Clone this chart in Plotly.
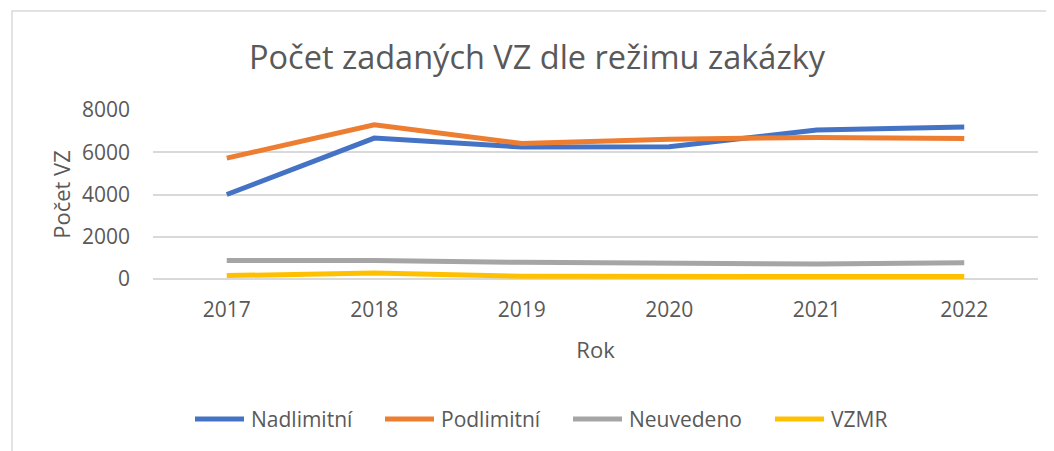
import plotly.graph_objects as go

years = ["2017", "2018", "2019", "2020", "2021", "2022"]
nadlimitni = [4000, 6670, 6250, 6260, 7050, 7200]
podlimitni = [5720, 7300, 6420, 6620, 6700, 6650]
neuvedeno = [880, 880, 790, 740, 710, 770]
vzmr = [160, 280, 130, 110, 120, 115]

series_names = ["Nadlimitní", "Podlimitní", "Neuvedeno", "VZMR"]
series_values = [nadlimitni, podlimitni, neuvedeno, vzmr]
series_colors = ["#4472C4", "#ED7D31", "#A5A5A5", "#FFC000"]

FONT = "Open Sans"
GREY = "#595959"

fig = go.Figure()
for name, vals, col in zip(series_names, series_values, series_colors):
    fig.add_trace(go.Scatter(x=years, y=vals, name=name, mode="lines",
                             line=dict(color=col, width=5), showlegend=False))

OFF = 8  # page body margin
W, H = 1054 - OFF, 451 - OFF
PL, PR, PT, PB = 153, 1038, 110, 279  # plot area in page pixels
L, R, T, B = PL - OFF, OFF + W - PR, PT - OFF, OFF + H - PB
pw = PR - PL
ph = PB - PT

def px(x):
    return (x - PL) / pw

def py(y):
    return (PB - y) / ph

# manual legend (line sample + label), page pixel positions
legend_x = [193, 383, 571, 773]
legend_y = 419
sample_len = 53

shapes = [dict(type="rect", xref="paper", yref="paper",
               x0=px(12), x1=px(1070), y0=py(470), y1=py(11),
               line=dict(color="#D9D9D9", width=1.5), fillcolor="rgba(0,0,0,0)",
               layer="below")]
annotations = []
for name, col, lx in zip(series_names, series_colors, legend_x):
    shapes.append(dict(type="line", xref="paper", yref="paper",
                       x0=px(lx + 2), x1=px(lx + sample_len - 2), y0=py(legend_y), y1=py(legend_y),
                       line=dict(color=col, width=5)))
    annotations.append(dict(text=name, xref="paper", yref="paper",
                            x=px(lx + sample_len + 3), y=py(legend_y),
                            xanchor="left", yanchor="middle", showarrow=False,
                            font=dict(size=21, color=GREY, family=FONT)))

fig.update_layout(
    width=W, height=H,
    margin=dict(l=L, r=R, t=T, b=B, autoexpand=False),
    paper_bgcolor="white", plot_bgcolor="white",
    font=dict(family=FONT, color=GREY, size=21),
    showlegend=False,
    title=dict(text="Počet zadaných VZ dle režimu zakázky", x=px(537), xref="paper",
               xanchor="center", y=1 - (58 - OFF) / H, yanchor="middle",
               font=dict(size=32.5, color=GREY, family=FONT)),
    xaxis=dict(type="category", range=[-0.5, 5.5], automargin=False,
               showgrid=False, showline=False, ticks="", ticklabelstandoff=16,
               tickfont=dict(size=21, color=GREY),
               title=dict(text="Rok", font=dict(size=22, color=GREY), standoff=20)),
    yaxis=dict(range=[0, 8000], tickvals=[0, 2000, 4000, 6000, 8000], automargin=False,
               showgrid=True, gridcolor="#D9D9D9", gridwidth=1.5,
               zeroline=True, zerolinecolor="#D9D9D9", zerolinewidth=1.5,
               showline=False, ticks="", ticklabelstandoff=22,
               tickfont=dict(size=21, color=GREY),
               title=dict(text="Počet VZ", font=dict(size=22, color=GREY), standoff=5)),
    shapes=shapes,
    annotations=annotations,
)

fig.write_html("out.html")
